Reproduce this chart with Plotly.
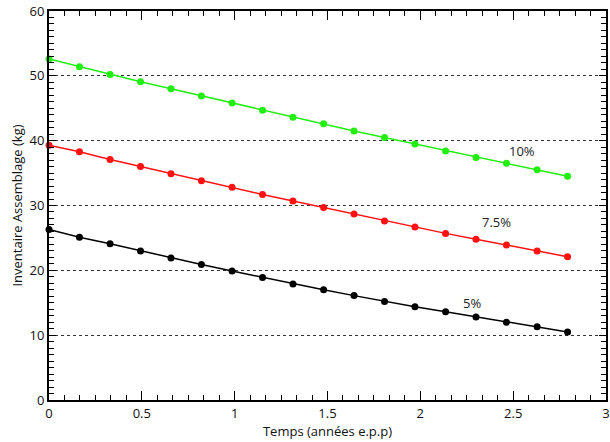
import plotly.graph_objects as go

temps = [0.0, 0.164, 0.329, 0.493, 0.657, 0.821, 0.986, 1.150, 1.314, 1.479, 1.643,
         1.807, 1.971, 2.136, 2.300, 2.464, 2.629, 2.793]
inv_10 = [52.6, 51.4, 50.2, 49.1, 48.0, 46.9, 45.8, 44.7, 43.6, 42.6, 41.5,
          40.5, 39.5, 38.4, 37.4, 36.5, 35.5, 34.5]
inv_75 = [39.3, 38.3, 37.1, 36.0, 34.9, 33.8, 32.8, 31.7, 30.7, 29.7, 28.7,
          27.6, 26.7, 25.7, 24.8, 23.9, 23.0, 22.1]
inv_5 = [26.3, 25.1, 24.1, 23.0, 21.9, 20.9, 19.9, 18.9, 17.9, 17.0, 16.1,
         15.2, 14.4, 13.6, 12.8, 12.0, 11.3, 10.5]

series = [("10%", inv_10, "#22ee11"), ("7.5%", inv_75, "#ff1111"), ("5%", inv_5, "#000000")]
labels = [("10%", 2.55, 38.4), ("7.5%", 2.41, 27.4), ("5%", 2.28, 15.0)]

FONT = "Open Sans"

fig = go.Figure()
for name, vals, col in series:
    fig.add_trace(go.Scatter(
        x=temps, y=vals, mode="lines+markers", name=name,
        line=dict(color=col, width=1.5),
        marker=dict(color=col, size=7),
        cliponaxis=False,
    ))

for txt, x, y in labels:
    fig.add_annotation(x=x, y=y, text=txt, showarrow=False,
                       font=dict(family=FONT, size=13, color="#222222"))

axis_common = dict(
    showline=True, linecolor="black", linewidth=2, mirror="allticks",
    ticks="inside", tickcolor="black", zeroline=False, automargin=False,
    ticklabeloverflow="allow",
    tickfont=dict(family=FONT, size=13, color="#111111"),
)

fig.update_xaxes(
    range=[0, 3], dtick=0.5, tick0=0, ticklen=9, tickwidth=1.2,
    showgrid=False,
    minor=dict(dtick=0.5 / 6, ticks="inside", ticklen=5, tickcolor="black", showgrid=False),
    title=dict(text="Temps (années e.p.p)", font=dict(family=FONT, size=13, color="#111111"), standoff=1),
    **axis_common,
)
fig.update_yaxes(
    range=[0, 60], dtick=10, tick0=0, ticklen=7, tickwidth=1.2,
    showgrid=True, gridcolor="#333333", gridwidth=1, griddash="dot",
    minor=dict(dtick=1, ticks="inside", ticklen=5, tickcolor="black", showgrid=False),
    title=dict(text="Inventaire Assemblage (kg)", font=dict(family=FONT, size=13, color="#111111"), standoff=4),
    **axis_common,
)

fig.update_layout(
    width=610, height=442,
    margin=dict(l=49, r=4, t=11, b=42),
    paper_bgcolor="white", plot_bgcolor="white",
    showlegend=False,
)

# remove the page's default body margin so the figure fills the window exactly
fig.write_html("out.html", config={"displayModeBar": False},
               post_script="document.body.style.margin='0';")
